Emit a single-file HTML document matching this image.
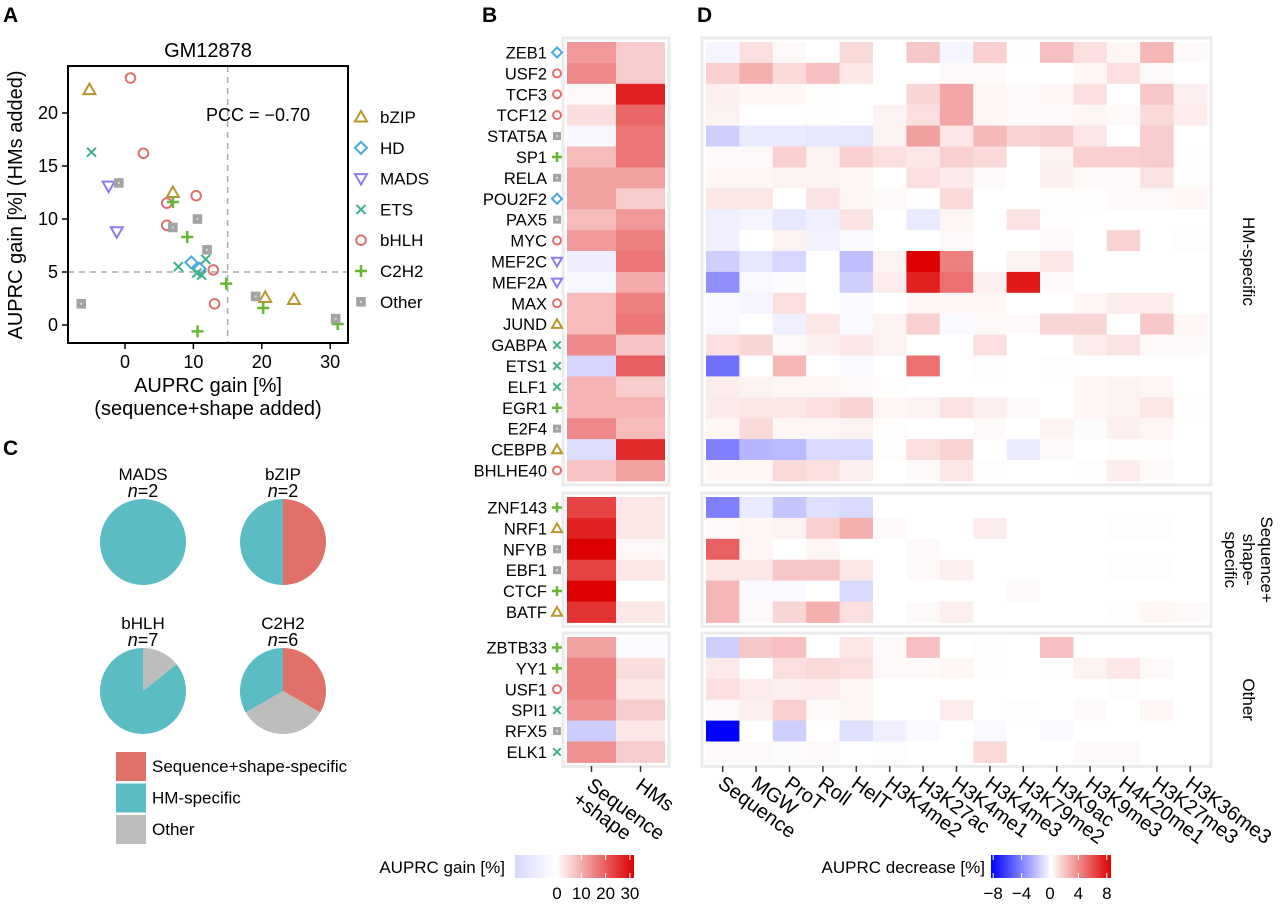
<!DOCTYPE html>
<html><head><meta charset="utf-8"><style>
html,body{margin:0;padding:0;background:#fff}
svg{display:block;font-family:"Liberation Sans",Arial,sans-serif}
</style></head><body>
<svg id="fig" width="1280" height="905" viewBox="0 0 1280 905" xmlns="http://www.w3.org/2000/svg">
<g id="gA"></g>
<g id="gB"></g>
<g id="gC"></g>
<g id="gD"></g>
</svg>
<script>
// ---------- Panel A data ----------
const famNames = ["bZIP","HD","MADS","ETS","bHLH","C2H2","Other"];
const ptFam = ["bZIP","bZIP","bZIP","bZIP","HD","HD","MADS","MADS","ETS","ETS","ETS","ETS","ETS","bHLH","bHLH","bHLH","bHLH","bHLH","bHLH","bHLH","C2H2","C2H2","C2H2","C2H2","C2H2","C2H2","Other","Other","Other","Other","Other","Other","Other"];
const ptX = [-5.2,7.0,20.5,24.7,9.7,10.9,-2.4,-1.2,-4.9,7.8,11.8,11.2,10.5,0.8,2.7,10.4,6.1,6.1,12.9,13.1,7.0,9.1,14.8,10.6,20.2,31.1,-6.4,-0.9,7.0,10.6,12.0,19.1,30.8];
const ptY = [22.2,12.5,2.6,2.4,5.9,5.3,13.1,8.8,16.3,5.5,6.2,4.7,4.9,23.3,16.2,12.2,11.5,9.4,5.2,2.0,11.6,8.3,3.9,-0.6,1.6,0.1,2.0,13.4,9.2,10.0,7.1,2.7,0.6];
const xTicks = [0,10,20,30];
const yTicks = [0,5,10,15,20];
const pccText = "PCC = \u22120.70";

// ---------- Panel B/D data ----------
const tfNames = ["ZEB1","USF2","TCF3","TCF12","STAT5A","SP1","RELA","POU2F2","PAX5","MYC","MEF2C","MEF2A","MAX","JUND","GABPA","ETS1","ELF1","EGR1","E2F4","CEBPB","BHLHE40","ZNF143","NRF1","NFYB","EBF1","CTCF","BATF","ZBTB33","YY1","USF1","SPI1","RFX5","ELK1"];
const tfFam = ["HD","bHLH","bHLH","bHLH","Other","C2H2","Other","HD","Other","bHLH","MADS","MADS","bHLH","bZIP","ETS","ETS","ETS","C2H2","Other","bZIP","bHLH","C2H2","bZIP","Other","Other","C2H2","bZIP","C2H2","C2H2","bHLH","ETS","Other","ETS"];
const sectionSizes = [21,6,6];
const sectionLabels = [["HM-specific"],["Sequence+","shape-","specific"],["Other"]];
const bCols = [["Sequence","+shape"],["HMs"]];
const bSeqShape = [12,14,1,4,-1,8,11,11,8,12,-2,-1,8,8,14,-5,9,9,14,-4,7,22,26,32,22,32,24,11,15,15,13,-6,13];
const bHMs = [6,6,26,18,16,16,11,6,12,15,16,10,15,16,7,19,6,9,8,25,11,3,3,1,3,0,3,-0.5,4,3,6,3,6];
const bTickLabels = ["0","10","20","30"];
const bTickVals = [0,10,20,30];
const dCols = ["Sequence","MGW","ProT","Roll","HelT","H3K4me2","H3K27ac","H3K4me1","H3K4me3","H3K79me2","H3K9ac","H3K9me3","H4K20me1","H3K27me3","H3K36me3"];
const dTickVals = [-8,-4,0,4,8];
const dVals = [
[-0.3,1,0.2,0,1.2,0,1.8,-0.3,1.5,0.1,2,1,0.3,2.3,0.2],
[1.5,2.5,1.2,2,0.8,0,0,0.2,0.2,0,0,0.3,1,0.2,0],
[0.5,0.3,0.3,0.1,0,0,1.3,2.8,0.3,0.2,0.3,1,0,1.8,0.5],
[0.4,0,0,0.1,0,0.4,1,2.8,0.3,0.2,0.2,0.3,0.2,1.2,0.6],
[-1.5,-0.7,-0.7,-0.8,-0.8,0.4,3,0.8,2.2,1.4,1.6,0.8,0,1.6,0],
[0.2,0.2,1.5,0.4,1.5,1,0.8,1.5,1.2,0,0.4,1.5,1.5,1.6,0.1],
[0.3,0.3,0.4,0.4,0.3,0,1,0.7,0.2,0,0.5,0.2,0.2,0.9,0.1],
[0.8,0.8,0,0.9,0.3,0.2,0.1,1.2,0,0,0.1,0.1,0.2,0.2,0.3],
[-0.5,-0.3,-0.8,-0.5,0.9,0,-0.7,0.3,0,0.9,0.1,0,0,0,0],
[-0.5,0,0.4,-0.4,-0.2,0,0,0.2,0,0,0.2,0,1.4,0,0.1],
[-1.5,-0.8,-1.3,0,-2,0.4,8,4,0,0.4,0.8,0,0,0,0],
[-3.5,-0.2,-0.1,0,-1.5,0.6,7,4.5,0.5,7.2,0.2,0,0,0,0],
[-0.2,-0.3,1,0,-0.2,0,0.3,0.3,0.3,0,0,0.3,0.6,0.6,0],
[-0.2,0,-0.5,0.8,-0.2,0.4,1.5,-0.2,0.2,0.2,1.3,1.3,0,1.8,0.3],
[1,1.3,0.2,0.5,0.8,0.4,0,0,1,0,0,0.6,0.9,0.2,0.2],
[-4.5,0,2.3,0,-0.2,0,4.5,0,0.1,0,0.1,0,0,0,0],
[0.6,0.4,0.3,0.3,0.2,0.1,0,0,0,0,0,0.3,0.4,0.3,0],
[0.7,0.8,0.8,1,1.4,0.3,0.4,0.9,0.5,0.2,0,0.3,0.4,0.8,0.1],
[0.3,1.2,0.3,0.3,0.4,0.1,0,0,0.2,0,0.4,-0.1,0.5,0.3,0],
[-4,-2.3,-2.2,-1.2,-1.2,0.1,1,1.4,0,-0.6,0.2,0,0.1,0.1,0],
[0.3,0.3,1.2,1,0.5,0,0.2,0.8,0.1,0,0,0.1,0.6,0.2,0],
[-4,-0.7,-1.8,-1,-1.2,0,0,0,0,0,0,0,0,0,0],
[0.2,0.3,0.4,1.5,2.5,0.2,0,0,0.6,0,0,0,0.1,0.1,0],
[5,0.3,0,0.3,0,0,0.2,0,0,0,0,0,0,0,0],
[0.8,0.8,1.8,1.8,0.8,0,0.2,0.5,0,0,0,0,0.1,0.1,0],
[2.3,-0.2,-0.2,0,-1.2,0,0,0,0,0.2,0,0,0,0,0],
[2.3,0.2,1.3,2.5,1,0,0.2,0.5,0,0,0,0,0.1,0.3,0.2],
[-1.5,1.8,2,0,0.8,0.2,2,0,0.1,0,2,0,0,0,0],
[0.7,0,1,1.2,1,0.2,0.2,0.3,0.1,0,0.1,0.4,0.8,0.2,0],
[1,0.6,0.5,0.6,0.3,0,0,0,0,0,0,0,0.1,0,0],
[0.2,0.5,1.5,0.2,0.3,0,0,0.6,0,0.1,0,0.2,0,0.3,0],
[-8,0,-1.5,0,-1,-0.5,-0.2,0,-0.2,0,-0.2,0,0,0,0],
[0.2,0.2,-0.1,0.2,0,0.1,0,0,1.2,0,0,0.2,0.2,0,0]];

// ---------- Panel C data ----------
const pieNames = ["MADS","bZIP","bHLH","C2H2"];
const pieN = [2,2,7,6];
const pieSeq = [0,1,0,2];
const pieHM = [2,1,6,2];
const pieOther = [0,0,1,2];
const pieLegend = ["Sequence+shape-specific","HM-specific","Other"];

// ---------- helpers ----------
const NS = "http://www.w3.org/2000/svg";
function mk(parent, tag, attrs, text){
  const e = document.createElementNS(NS, tag);
  for (const k in attrs) e.setAttribute(k, attrs[k]);
  if (text !== undefined) e.textContent = text;
  parent.appendChild(e);
  return e;
}
const famColor = {bZIP:"#b8972a",HD:"#4aa8e0",MADS:"#8a7cf0",ETS:"#3cb08a",bHLH:"#e07070",C2H2:"#66b832",Other:"#a3a3a3"};
function symbol(parent, fam, cx, cy, s){
  const c = famColor[fam], g = mk(parent,"g",{});
  const sw = 2;
  if (fam==="bZIP") mk(g,"polygon",{points:`${cx},${cy-s} ${cx+s},${cy+s*0.75} ${cx-s},${cy+s*0.75}`,fill:"none",stroke:c,"stroke-width":sw});
  else if (fam==="MADS") mk(g,"polygon",{points:`${cx},${cy+s} ${cx+s},${cy-s*0.75} ${cx-s},${cy-s*0.75}`,fill:"none",stroke:c,"stroke-width":sw});
  else if (fam==="HD") mk(g,"polygon",{points:`${cx},${cy-s} ${cx+s},${cy} ${cx},${cy+s} ${cx-s},${cy}`,fill:"none",stroke:c,"stroke-width":sw});
  else if (fam==="ETS"){ const d=s*0.75; mk(g,"path",{d:`M${cx-d},${cy-d}L${cx+d},${cy+d}M${cx+d},${cy-d}L${cx-d},${cy+d}`,stroke:c,"stroke-width":sw}); }
  else if (fam==="bHLH") mk(g,"circle",{cx:cx,cy:cy,r:s*0.8,fill:"none",stroke:c,"stroke-width":sw});
  else if (fam==="C2H2") mk(g,"path",{d:`M${cx-s},${cy}L${cx+s},${cy}M${cx},${cy-s}L${cx},${cy+s}`,stroke:c,"stroke-width":sw+0.5});
  else { mk(g,"rect",{x:cx-s*0.8,y:cy-s*0.8,width:s*1.6,height:s*1.6,fill:c}); mk(g,"rect",{x:cx-1,y:cy-1,width:2,height:2,fill:"#d8d8d8"}); }
  return g;
}
function colorFor(v, vmax, vmin){
  let t, r, gC, b;
  if (v >= 0){ t = Math.min(v/vmax,1); r = 255 + (221-255)*t; gC = 255*(1-t); b = 255*(1-t); }
  else { t = Math.min(v/vmin,1); r = 255*(1-t); gC = 255*(1-t); b = 255; }
  return `rgb(${Math.round(r)},${Math.round(gC)},${Math.round(b)})`;
}

// ---------- Panel A ----------
const gA = document.getElementById("gA");
const ax = v => 125 + 6.84*v, ay = v => 325 - 10.6*v;
mk(gA,"text",{x:3,y:22,"font-size":21,"font-weight":"bold"},"A");
const tA = mk(gA,"text",{x:208,y:57,"font-size":20,"text-anchor":"middle"},"GM12878");
 
mk(gA,"line",{x1:ax(15),x2:ax(15),y1:66,y2:343,stroke:"#aaa","stroke-width":1.5,"stroke-dasharray":"6,5"});
mk(gA,"line",{x1:68,x2:348,y1:ay(5),y2:ay(5),stroke:"#aaa","stroke-width":1.5,"stroke-dasharray":"6,5"});
ptX.forEach((xv,i)=>{
  const s = symbol(gA, ptFam[i], ax(xv), ay(ptY[i]), 6);
  
  
});
const frame = mk(gA,"rect",{x:68,y:66,width:280,height:277,fill:"none",stroke:"#000","stroke-width":2});

const pcc = mk(gA,"text",{x:206,y:121,"font-size":18},pccText);

xTicks.forEach(t=>{
  mk(gA,"line",{x1:ax(t),x2:ax(t),y1:343,y2:349,stroke:"#000","stroke-width":1.5});
  const e = mk(gA,"text",{x:ax(t),y:368,"font-size":18,"text-anchor":"middle"},String(t));
  
});
yTicks.forEach(t=>{
  mk(gA,"line",{x1:62,x2:68,y1:ay(t),y2:ay(t),stroke:"#000","stroke-width":1.5});
  const e = mk(gA,"text",{x:58,y:ay(t)+6,"font-size":18,"text-anchor":"end"},String(t));
  
});
const xl = mk(gA,"text",{x:208,y:392,"font-size":20,"text-anchor":"middle"},"AUPRC gain [%]");

mk(gA,"text",{x:208,y:415,"font-size":20,"text-anchor":"middle"},"(sequence+shape added)");
const yl = mk(gA,"text",{x:0,y:0,"font-size":20,"text-anchor":"middle",transform:"translate(22,205) rotate(-90)"},"AUPRC gain [%] (HMs added)");

famNames.forEach((f,i)=>{
  const y = 117 + i*30.8;
  const s = symbol(gA, f, 361, y, 6);
  
  const t = mk(gA,"text",{x:380,y:y+6,"font-size":17},f);
  
  
});

// ---------- Panel B & D heatmaps ----------
const gB = document.getElementById("gB"), gD = document.getElementById("gD");
mk(gB,"text",{x:482,y:22,"font-size":21,"font-weight":"bold"},"B");
mk(gD,"text",{x:697,y:22,"font-size":21,"font-weight":"bold"},"D");
const rowH = 20.9;
const secTop = [42,497,637];
const bX0 = 567, bColW = 49, dX0 = 706, dColW = 33.4;
const rowY = [];
sectionSizes.forEach((n,si)=>{
  const top = secTop[si];
  mk(gB,"rect",{x:bX0-4,y:top-4,width:2*bColW+8,height:n*rowH+8,fill:"none",stroke:"#ebebeb","stroke-width":3});
  mk(gD,"rect",{x:dX0-4,y:top-4,width:15*dColW+8,height:n*rowH+8,fill:"none",stroke:"#ebebeb","stroke-width":3});
  for (let k=0;k<n;k++){ rowY.push(top + k*rowH); }
  const cy = top + n*rowH/2;
  const lines = sectionLabels[si];
  const tx = 1243 + (lines.length-1)*9;
  lines.forEach((ln,li)=>{
    const e = mk(gD,"text",{x:0,y:0,"font-size":17,"text-anchor":"middle",transform:`translate(${tx-li*18},${cy}) rotate(90)`},ln);
    
  });
});
tfNames.forEach((nm,i)=>{
  const y = rowY[i];
  const lab = mk(gB,"text",{x:547,y:y+rowH/2+6,"font-size":16.5,"text-anchor":"end"},nm);
  
  const s = symbol(gB, tfFam[i], 557, y+rowH/2, 5);
  
  const c1 = mk(gB,"rect",{x:bX0,y:y,width:bColW,height:rowH+0.5,fill:colorFor(bSeqShape[i],30,-30)});
  
  
  const c2 = mk(gB,"rect",{x:bX0+bColW,y:y,width:bColW,height:rowH+0.5,fill:colorFor(bHMs[i],30,-30)});
  
  
  dVals[i].forEach((v,j)=>{
    const c = mk(gD,"rect",{x:dX0+j*dColW,y:y,width:dColW+0.5,height:rowH+0.5,fill:colorFor(v,8,-8)});
    
    
  });
});
// x axis ticks/labels
const axY = 766;
bCols.forEach((lines,j)=>{
  const x = bX0 + (j+0.5)*bColW;
  mk(gB,"line",{x1:x,x2:x,y1:axY,y2:axY+6,stroke:"#333","stroke-width":1.5});
  lines.forEach((ln,li)=>{
    const e = mk(gB,"text",{x:0,y:0,"font-size":20,transform:`translate(${x-6-li*14},${axY+22+li*14}) rotate(36)`},ln);
    
  });
});
dCols.forEach((nm,j)=>{
  const x = dX0 + (j+0.5)*dColW;
  mk(gD,"line",{x1:x,x2:x,y1:axY,y2:axY+6,stroke:"#333","stroke-width":1.5});
  const e = mk(gD,"text",{x:0,y:0,"font-size":20,transform:`translate(${x-6},${axY+20}) rotate(36)`},nm);
  
});
// colorbars
const defs = mk(document.getElementById("fig"),"defs",{});
const lgB = mk(defs,"linearGradient",{id:"gradB",x1:0,x2:1,y1:0,y2:0});
mk(lgB,"stop",{offset:"0","stop-color":"#d8d8fb"});
mk(lgB,"stop",{offset:"0.35","stop-color":"#fff"});
mk(lgB,"stop",{offset:"1","stop-color":"#dd0000"});
const lgD = mk(defs,"linearGradient",{id:"gradD",x1:0,x2:1,y1:0,y2:0});
mk(lgD,"stop",{offset:"0","stop-color":"#0000ff"});
mk(lgD,"stop",{offset:"0.5","stop-color":"#fff"});
mk(lgD,"stop",{offset:"1","stop-color":"#dd0000"});
const cbB = mk(gB,"rect",{x:515,y:855,width:119,height:23,fill:"url(#gradB)"});

const bScale = v => 557 + v*2.43;
bTickVals.forEach((v,i)=>{
  mk(gB,"line",{x1:bScale(v),x2:bScale(v),y1:855,y2:860,stroke:"#fff"});
  mk(gB,"line",{x1:bScale(v),x2:bScale(v),y1:873,y2:878,stroke:"#fff"});
  const e = mk(gB,"text",{x:bScale(v),y:899,"font-size":17,"text-anchor":"middle"},bTickLabels[i]);
  
});
mk(gB,"text",{x:505,y:873,"font-size":17,"text-anchor":"end"},"AUPRC gain [%]");
const cbD = mk(gD,"rect",{x:991,y:855,width:120,height:23,fill:"url(#gradD)"});

const dScale = v => 1050 + v*7.1;
dTickVals.forEach(v=>{
  mk(gD,"line",{x1:dScale(v),x2:dScale(v),y1:855,y2:860,stroke:"#fff"});
  mk(gD,"line",{x1:dScale(v),x2:dScale(v),y1:873,y2:878,stroke:"#fff"});
  const e = mk(gD,"text",{x:dScale(v),y:899,"font-size":17,"text-anchor":"middle"},v<0?"\u2212"+Math.abs(v):String(v));
  
});
mk(gD,"text",{x:985,y:873,"font-size":17,"text-anchor":"end"},"AUPRC decrease [%]");

// ---------- Panel C ----------
const gC = document.getElementById("gC");
mk(gC,"text",{x:3,y:455,"font-size":21,"font-weight":"bold"},"C");
const pieCx = [143,283,143,283], pieCy = [542,542,691,691], R = 43;
const pieCols = ["#e07068","#5bbcc4","#bdbdbd"];
function arc(cx,cy,r,a0,a1){
  if (a1-a0 >= 2*Math.PI-1e-6) return null;
  const x0 = cx + r*Math.sin(a0), y0 = cy - r*Math.cos(a0);
  const x1 = cx + r*Math.sin(a1), y1 = cy - r*Math.cos(a1);
  return `M${cx},${cy}L${x0},${y0}A${r},${r} 0 ${a1-a0>Math.PI?1:0} 1 ${x1},${y1}Z`;
}
pieNames.forEach((nm,i)=>{
  const cx = pieCx[i], cy = pieCy[i];
  const t1 = mk(gC,"text",{x:cx,y:cy-62,"font-size":17,"text-anchor":"middle"},nm);
  
  const t2 = mk(gC,"text",{x:cx,y:cy-45,"font-size":18,"text-anchor":"middle"});
  mk(t2,"tspan",{"font-style":"italic"},"n");
  mk(t2,"tspan",{},"="+pieN[i]);
  
  const parts = [pieSeq[i], pieOther[i], pieHM[i]];
  const cols = [pieCols[0], pieCols[2], pieCols[1]];
  let a = 0;
  parts.forEach((p,k)=>{
    if (p<=0) return;
    const a1 = a + 2*Math.PI*p/pieN[i];
    const d = arc(cx,cy,R,a,a1);
    const el = d ? mk(gC,"path",{d:d,fill:cols[k]}) : mk(gC,"circle",{cx:cx,cy:cy,r:R,fill:cols[k]});
    
    
    a = a1;
  });
});
pieLegend.forEach((lb,i)=>{
  const y = 752 + i*31.5;
  const r = mk(gC,"rect",{x:116,y:y,width:30,height:29,fill:pieCols[i]});
  
  const t = mk(gC,"text",{x:152,y:y+20,"font-size":17},lb);
  
});
</script>
</body></html>
